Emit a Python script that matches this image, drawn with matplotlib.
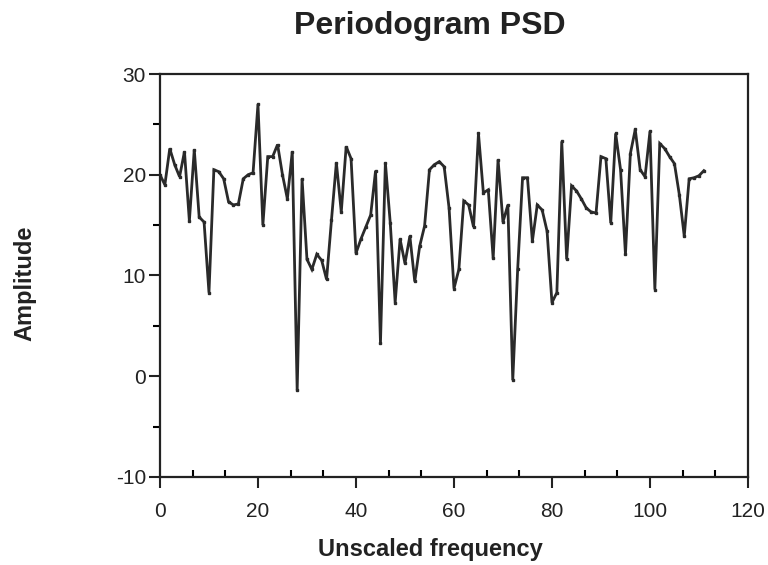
import matplotlib
matplotlib.use("Agg")
import matplotlib.pyplot as plt
from matplotlib.ticker import MultipleLocator

plt.rcParams['font.family'] = ['Liberation Sans', 'DejaVu Sans']
plt.rcParams['axes.unicode_minus'] = False

frequency = list(range(112))
amplitude = [
    20.0, 19.0, 22.6, 21.0, 19.8, 22.3, 15.4, 22.5, 15.8, 15.3,
    8.3, 20.5, 20.3, 19.6, 17.3, 17.0, 17.1, 19.6, 20.0, 20.2,
    27.0, 15.0, 21.8, 21.8, 23.0, 20.0, 17.6, 22.3, -1.4, 19.6,
    11.6, 10.6, 12.1, 11.5, 9.6, 15.5, 21.2, 16.3, 22.8, 21.6,
    12.2, 13.6, 14.8, 16.0, 20.4, 3.3, 21.2, 15.2, 7.3, 13.6,
    11.2, 13.9, 9.4, 12.9, 14.9, 20.5, 21.0, 21.3, 20.8, 16.7,
    8.7, 10.6, 17.4, 17.0, 14.8, 24.1, 18.2, 18.5, 11.7, 21.5,
    15.3, 17.0, -0.4, 10.6, 19.7, 19.7, 13.4, 17.0, 16.5, 14.4,
    7.3, 8.3, 23.3, 11.6, 18.9, 18.4, 17.6, 16.7, 16.3, 16.2,
    21.8, 21.6, 15.2, 24.1, 20.5, 12.1, 22.1, 24.5, 20.5, 19.8,
    24.3, 8.6, 23.1, 22.6, 21.8, 21.1, 18.0, 13.9, 19.6, 19.7,
    19.9, 20.4,
]

title = "Periodogram PSD"
xlabel = "Unscaled frequency"
ylabel = "Amplitude"

fig = plt.figure(figsize=(7.68, 5.65), dpi=100)
ax = fig.add_axes([0.2083, 0.156, 0.7656, 0.713])

ax.plot(frequency, amplitude, color='#2a2a2a', linewidth=2.0,
        marker='s', markersize=1.8, solid_joinstyle='miter')

ax.set_xlim(0, 120)
ax.set_ylim(-10, 30)
ax.xaxis.set_major_locator(MultipleLocator(20))
ax.xaxis.set_minor_locator(MultipleLocator(20 / 3))
ax.yaxis.set_major_locator(MultipleLocator(10))
ax.yaxis.set_minor_locator(MultipleLocator(5))

for s in ax.spines.values():
    s.set_linewidth(1.6)
    s.set_color('#222222')

ax.tick_params(axis='x', which='major', direction='out', length=8, width=1.5,
               labelsize=15, colors='#222222', pad=10)
ax.tick_params(axis='x', which='minor', direction='in', length=5, width=1.5)
ax.tick_params(axis='y', which='major', direction='out', length=8, width=1.5,
               labelsize=15, colors='#222222', pad=2)
ax.tick_params(axis='y', which='minor', direction='out', length=5, width=1.5)

fig.text(430 / 768, 1 - 26 / 565, title, fontsize=23, fontweight='bold',
         color='#222222', ha='center', va='center')
ax.set_xlabel(xlabel, fontsize=17, fontweight='bold', color='#222222')
ax.xaxis.set_label_coords((430 - 160) / 588, (477 - 550) / 403)
ax.xaxis.label.set_va('center')
ax.set_ylabel(ylabel, fontsize=17, fontweight='bold', color='#222222')
ax.yaxis.set_label_coords((25 - 160) / 588, (477 - 283) / 403)
ax.yaxis.label.set_va('center')

fig.savefig("out.png", dpi=100)
